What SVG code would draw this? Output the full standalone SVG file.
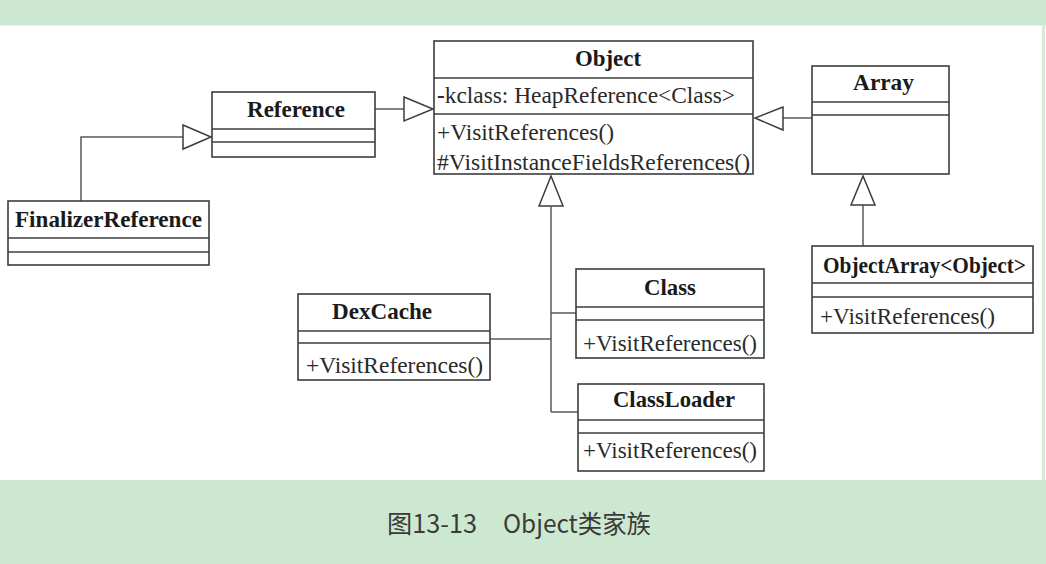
<svg xmlns="http://www.w3.org/2000/svg" width="1046" height="564" viewBox="0 0 1046 564">
  <defs>
    <style>
      .box { fill: #ffffff; stroke: #3c3c3c; stroke-width: 1.6; }
      .sep { stroke: #3c3c3c; stroke-width: 1.4; fill: none; }
      .title { font-family: "Liberation Serif", "Times New Roman", serif; font-weight: bold; font-size: 23px; fill: #1a1a1a; }
      .member { font-family: "Liberation Serif", "Times New Roman", serif; font-size: 23px; fill: #2a2a2a; }
      .conn { stroke: #5a5a5a; stroke-width: 1.5; fill: none; }
      .tri { fill: #ffffff; stroke: #3c3c3c; stroke-width: 1.5; stroke-linejoin: miter; }
      .caption { font-family: "Noto Sans CJK SC", "Noto Sans", sans-serif; font-size: 25px; fill: #3a3a3a; }
    </style>
  </defs>

  <rect x="0" y="0" width="1046" height="564" fill="#ffffff"/>
  <rect x="0" y="0" width="1046" height="25" fill="#cde8d0"/>
  <rect x="0" y="480" width="1046" height="84" fill="#cde8d0"/>
  <rect x="1042" y="25" width="3" height="455" fill="#d4ecd6"/>
  <line x1="0" y1="25.5" x2="1046" y2="25.5" stroke="#e2f2e4" stroke-width="1"/>

  <g id="connectors">
    <!-- Reference -> Object -->
    <line class="conn" x1="375" y1="109" x2="404" y2="109"/>
    <polygon class="tri" points="404,97 433,109 404,121"/>
    <!-- FinalizerReference -> Reference -->
    <polyline class="conn" points="81,201 81,137 183,137"/>
    <polygon class="tri" points="183,125 211,137 183,149"/>
    <!-- Array -> Object -->
    <line class="conn" x1="812" y1="118" x2="783" y2="118"/>
    <polygon class="tri" points="783,107 755,118 783,130"/>
    <!-- ObjectArray -> Array -->
    <line class="conn" x1="863" y1="246" x2="863" y2="205"/>
    <polygon class="tri" points="851,205 863,176 875,205"/>
    <!-- Object children trunk -->
    <polygon class="tri" points="539,206 551,176 563,206"/>
    <line class="conn" x1="551" y1="206" x2="551" y2="412"/>
    <line class="conn" x1="490" y1="339" x2="551" y2="339"/>
    <line class="conn" x1="551" y1="313" x2="576" y2="313"/>
    <line class="conn" x1="551" y1="412" x2="578" y2="412"/>
  </g>

  <g id="node-object">
    <rect class="box" x="434" y="41" width="319" height="133"/>
    <line class="sep" x1="434" y1="78" x2="753" y2="78"/>
    <line class="sep" x1="434" y1="114" x2="753" y2="114"/>
    <text class="title" x="575" y="66" textLength="66" lengthAdjust="spacingAndGlyphs">Object</text>
    <text class="member" x="437" y="103" textLength="298" lengthAdjust="spacingAndGlyphs"><tspan font-weight="bold">-</tspan>kclass: HeapReference&lt;Class&gt;</text>
    <text class="member" x="437" y="140" textLength="177" lengthAdjust="spacingAndGlyphs">+VisitReferences()</text>
    <text class="member" x="437" y="170" textLength="313" lengthAdjust="spacingAndGlyphs">#VisitInstanceFieldsReferences()</text>
  </g>

  <g id="node-reference">
    <rect class="box" x="212" y="92" width="163" height="65"/>
    <line class="sep" x1="212" y1="129" x2="375" y2="129"/>
    <line class="sep" x1="212" y1="142" x2="375" y2="142"/>
    <text class="title" x="247" y="117" textLength="98" lengthAdjust="spacingAndGlyphs">Reference</text>
  </g>

  <g id="node-finalizerreference">
    <rect class="box" x="8" y="201" width="201" height="64"/>
    <line class="sep" x1="8" y1="238" x2="209" y2="238"/>
    <line class="sep" x1="8" y1="252" x2="209" y2="252"/>
    <text class="title" x="15" y="227" textLength="187" lengthAdjust="spacingAndGlyphs">FinalizerReference</text>
  </g>

  <g id="node-array">
    <rect class="box" x="812" y="66" width="137" height="108"/>
    <line class="sep" x1="812" y1="102" x2="949" y2="102"/>
    <line class="sep" x1="812" y1="115" x2="949" y2="115"/>
    <text class="title" x="853" y="90" textLength="61" lengthAdjust="spacingAndGlyphs">Array</text>
  </g>

  <g id="node-objectarray">
    <rect class="box" x="812" y="246" width="221" height="87"/>
    <line class="sep" x1="812" y1="283" x2="1033" y2="283"/>
    <line class="sep" x1="812" y1="297" x2="1033" y2="297"/>
    <text class="title" x="823" y="273" textLength="203" lengthAdjust="spacingAndGlyphs">ObjectArray&lt;Object&gt;</text>
    <text class="member" x="820" y="324" textLength="175" lengthAdjust="spacingAndGlyphs">+VisitReferences()</text>
  </g>

  <g id="node-dexcache">
    <rect class="box" x="298" y="294" width="192" height="86"/>
    <line class="sep" x1="298" y1="331" x2="490" y2="331"/>
    <line class="sep" x1="298" y1="343" x2="490" y2="343"/>
    <text class="title" x="332" y="319" textLength="100" lengthAdjust="spacingAndGlyphs">DexCache</text>
    <text class="member" x="306" y="373" textLength="177" lengthAdjust="spacingAndGlyphs">+VisitReferences()</text>
  </g>

  <g id="node-class">
    <rect class="box" x="576" y="269" width="188" height="89"/>
    <line class="sep" x1="576" y1="307" x2="764" y2="307"/>
    <line class="sep" x1="576" y1="320" x2="764" y2="320"/>
    <text class="title" x="644" y="295" textLength="52" lengthAdjust="spacingAndGlyphs">Class</text>
    <text class="member" x="583" y="351" textLength="174" lengthAdjust="spacingAndGlyphs">+VisitReferences()</text>
  </g>

  <g id="node-classloader">
    <rect class="box" x="578" y="384" width="186" height="87"/>
    <line class="sep" x1="578" y1="420" x2="764" y2="420"/>
    <line class="sep" x1="578" y1="433" x2="764" y2="433"/>
    <text class="title" x="613" y="407" textLength="122" lengthAdjust="spacingAndGlyphs">ClassLoader</text>
    <text class="member" x="583" y="458" textLength="174" lengthAdjust="spacingAndGlyphs">+VisitReferences()</text>
  </g>

  <g id="caption">
    <text class="caption" x="387" y="533" textLength="90" lengthAdjust="spacingAndGlyphs">图13-13</text>
    <text class="caption" x="503" y="533" textLength="148" lengthAdjust="spacingAndGlyphs">Object类家族</text>
  </g>
</svg>
